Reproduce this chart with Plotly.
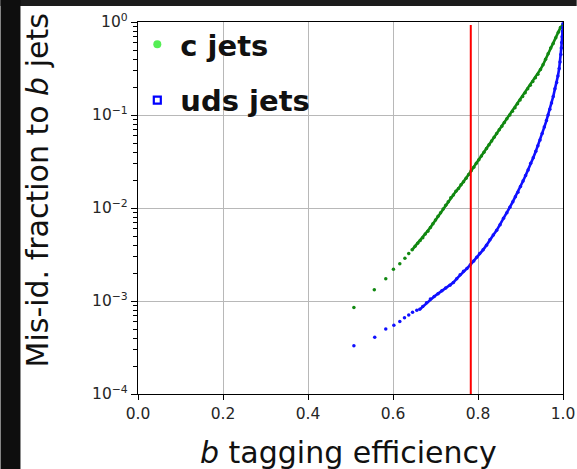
import plotly.graph_objects as go

# ROC-style curves: mis-identification fraction vs b tagging efficiency
c_eff = [0.508, 0.556, 0.583, 0.601, 0.616, 0.628, 0.637, 0.645, 0.652, 0.658,
         0.664, 0.670, 0.676, 0.682, 0.688, 0.694, 0.700, 0.706, 0.712, 0.718,
         0.724, 0.730, 0.736, 0.742, 0.748, 0.754, 0.760, 0.766, 0.772, 0.778,
         0.784, 0.790, 0.796, 0.802, 0.808, 0.814, 0.820, 0.826, 0.832, 0.838,
         0.844, 0.850, 0.856, 0.862, 0.868, 0.875, 0.881, 0.887, 0.893, 0.899,
         0.905, 0.911, 0.917, 0.923, 0.929, 0.935, 0.941, 0.947, 0.953, 0.959,
         0.965, 0.971, 0.977, 0.983, 0.989, 0.994, 1.000]
c_mistag = [8.5e-4, 1.32e-3, 1.74e-3, 2.19e-3, 2.51e-3, 2.88e-3, 3.24e-3, 3.55e-3, 3.89e-3, 4.17e-3,
            4.47e-3, 4.79e-3, 5.25e-3, 5.62e-3, 6.17e-3, 6.76e-3, 7.41e-3, 8.13e-3, 8.91e-3, 9.77e-3,
            1.07e-2, 1.17e-2, 1.29e-2, 1.38e-2, 1.51e-2, 1.62e-2, 1.78e-2, 1.91e-2, 2.09e-2, 2.29e-2,
            2.51e-2, 2.75e-2, 3.02e-2, 3.31e-2, 3.63e-2, 3.98e-2, 4.37e-2, 4.79e-2, 5.25e-2, 5.75e-2,
            6.31e-2, 6.92e-2, 7.59e-2, 8.32e-2, 9.12e-2, 0.100, 0.110, 0.120, 0.132, 0.145,
            0.158, 0.174, 0.191, 0.209, 0.229, 0.251, 0.275, 0.309, 0.347, 0.398,
            0.457, 0.525, 0.589, 0.676, 0.776, 0.871, 0.933]

uds_eff = [0.508, 0.557, 0.583, 0.602, 0.616, 0.627, 0.637, 0.646, 0.656, 0.663,
           0.670, 0.679, 0.688, 0.697, 0.706, 0.715, 0.724, 0.734, 0.742, 0.750,
           0.758, 0.766, 0.774, 0.782, 0.790, 0.797, 0.804, 0.812, 0.820, 0.828,
           0.836, 0.844, 0.852, 0.860, 0.868, 0.875, 0.882, 0.888, 0.894, 0.900,
           0.906, 0.912, 0.918, 0.924, 0.930, 0.936, 0.941, 0.946, 0.951, 0.956,
           0.961, 0.965, 0.969, 0.973, 0.977, 0.981, 0.985, 0.988, 0.991, 0.993,
           0.995, 0.996, 0.997, 0.998, 0.999, 0.9995, 1.000]
uds_mistag = [3.31e-4, 4.07e-4, 5.01e-4, 5.50e-4, 6.03e-4, 6.61e-4, 7.08e-4, 7.59e-4, 7.94e-4, 8.13e-4,
              8.71e-4, 9.55e-4, 1.05e-3, 1.12e-3, 1.20e-3, 1.29e-3, 1.38e-3, 1.48e-3, 1.58e-3, 1.74e-3,
              1.91e-3, 2.09e-3, 2.24e-3, 2.45e-3, 2.69e-3, 2.95e-3, 3.24e-3, 3.55e-3, 3.98e-3, 4.57e-3,
              5.13e-3, 5.75e-3, 6.61e-3, 7.76e-3, 8.91e-3, 1.02e-2, 1.17e-2, 1.32e-2, 1.48e-2, 1.70e-2,
              1.95e-2, 2.24e-2, 2.57e-2, 3.02e-2, 3.47e-2, 4.07e-2, 4.68e-2, 5.37e-2, 6.31e-2, 7.41e-2,
              8.71e-2, 0.100, 0.115, 0.135, 0.158, 0.191, 0.224, 0.263, 0.316, 0.372,
              0.447, 0.525, 0.603, 0.692, 0.794, 0.871, 0.955]

# working point of the tagger
working_point = 0.783
working_point_span = [1e-4, 0.93]

x_ticks = [0.0, 0.2, 0.4, 0.6, 0.8, 1.0]
y_ticks = [1e-4, 1e-3, 1e-2, 1e-1, 1.0]
y_tick_text = ["10<sup>−4</sup>", "10<sup>−3</sup>", "10<sup>−2</sup>", "10<sup>−1</sup>", "10<sup>0</sup>"]
y_minor = [m * 10.0 ** e for e in range(-4, 0) for m in range(2, 10)]

W, H = 577, 469
L, R, T, B = 137.7, 563.3, 22.0, 394.0


def px(xp):
    return (xp - L) / (R - L)


def py(yp):
    return (B - yp) / (B - T)


GREEN = "#118811"
BLUE = "#1010ff"

fig = go.Figure()

# dense parts of the curves, where the points merge into a band
c_dense = [(x, y) for x, y in zip(c_eff, c_mistag) if x >= 0.64]
u_dense = [(x, y) for x, y in zip(uds_eff, uds_mistag) if x >= 0.66]
fig.add_trace(go.Scatter(x=[p[0] for p in c_dense], y=[p[1] for p in c_dense],
                         mode="lines", line=dict(color=GREEN, width=2.6),
                         showlegend=False, hoverinfo="skip"))
fig.add_trace(go.Scatter(x=[p[0] for p in u_dense], y=[p[1] for p in u_dense],
                         mode="lines", line=dict(color=BLUE, width=2.6),
                         showlegend=False, hoverinfo="skip"))

fig.add_trace(go.Scatter(x=c_eff, y=c_mistag, mode="markers",
                         marker=dict(color=GREEN, size=3.5, line=dict(width=0)),
                         showlegend=False))
fig.add_trace(go.Scatter(x=uds_eff, y=uds_mistag, mode="markers",
                         marker=dict(color=BLUE, size=3.5, line=dict(width=0)),
                         showlegend=False))

# working point
fig.add_trace(go.Scatter(x=[working_point, working_point], y=working_point_span,
                         mode="lines", line=dict(color="#ff0000", width=2),
                         showlegend=False))

# legend entries
fig.add_trace(go.Scatter(x=[None], y=[None], mode="markers", name="c jets",
                         legendgroup="c",
                         marker=dict(color="#55ee55", size=8, symbol="circle")))
fig.add_trace(go.Scatter(x=[None], y=[None], mode="markers", name="uds jets",
                         legendgroup="uds",
                         marker=dict(color="#ffffff", size=7, symbol="square",
                                     line=dict(color="#0000ff", width=2.2))))

tick_font = dict(family="DejaVu Sans", size=15.5, color="#262626")

fig.update_xaxes(range=[0, 1], tickvals=x_ticks, tickformat=".1f",
                 showgrid=True, gridcolor="#b8b8b8", gridwidth=1,
                 showline=True, linecolor="black", linewidth=1.3, mirror=True,
                 ticks="outside", ticklen=5, tickwidth=1.2, tickcolor="black",
                 tickfont=tick_font, zeroline=False)
fig.update_yaxes(type="log", range=[-4, 0], tickvals=y_ticks, ticktext=y_tick_text,
                 showgrid=True, gridcolor="#b8b8b8", gridwidth=1,
                 showline=True, linecolor="black", linewidth=1.3, mirror=True,
                 ticks="outside", ticklen=6, tickwidth=1.2, tickcolor="black",
                 tickfont=tick_font, zeroline=False,
                 minor=dict(tickvals=y_minor, ticks="outside", ticklen=3.5,
                            tickwidth=1, tickcolor="black", showgrid=False))

label_font = dict(family="DejaVu Sans", size=30, color="#111111")

fig.update_layout(
    width=W, height=H, autosize=False,
    margin=dict(l=L, r=W - R, t=T, b=H - B, autoexpand=False),
    paper_bgcolor="white", plot_bgcolor="white",
    legend=dict(x=px(134), y=py(19), xanchor="left", yanchor="top",
                itemwidth=36,
                bgcolor="rgba(0,0,0,0)", borderwidth=0, tracegroupgap=15,
                font=dict(family="DejaVu Sans", size=29,
                          color="#111111", weight="bold")),
    annotations=[
        dict(text="Mis-id. fraction to <i>b</i> jets", textangle=-90,
             xref="paper", yref="paper", x=px(37), y=py(190),
             xanchor="center", yanchor="middle", showarrow=False, font=label_font),
        dict(text="<i>b</i> tagging efficiency",
             xref="paper", yref="paper", x=px(348), y=py(452),
             xanchor="center", yanchor="middle", showarrow=False, font=label_font),
    ],
    shapes=[
        dict(type="rect", xref="paper", yref="paper", layer="above",
             x0=px(0), x1=px(W), y0=py(6), y1=py(0),
             fillcolor="#1c1c1c", line=dict(width=0)),
        dict(type="rect", xref="paper", yref="paper", layer="above",
             x0=px(0), x1=px(20), y0=py(H), y1=py(0),
             fillcolor="#0e0e0e", line=dict(width=0)),
    ],
)

fig.write_html("out.html", config={"responsive": False})
